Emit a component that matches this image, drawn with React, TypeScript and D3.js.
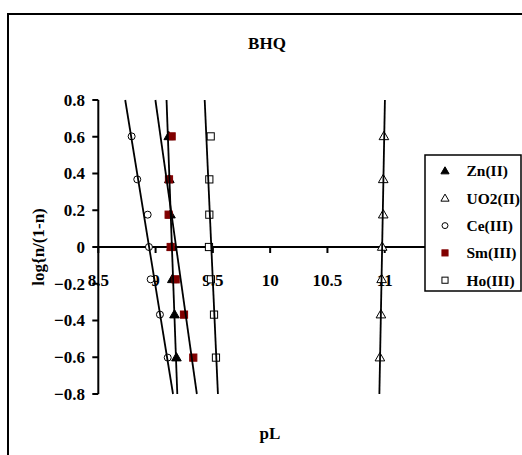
import React from "react";
import * as d3 from "d3";

// log{n/(1-n)} values shared by every series
const logRatio = [0.602, 0.368, 0.176, 0, -0.176, -0.368, -0.602];
// pL values per series
const znPL = [9.115, 9.12, 9.13, 9.14, 9.146, 9.165, 9.182];
const uo2PL = [10.993, 10.987, 10.987, 10.978, 10.973, 10.967, 10.958];
const cePL = [8.791, 8.84, 8.931, 8.942, 8.957, 9.038, 9.106];
const smPL = [9.14, 9.117, 9.114, 9.132, 9.175, 9.248, 9.329];
const hoPL = [9.481, 9.469, 9.469, 9.466, 9.483, 9.51, 9.527];

const seriesNames = ["Zn(II)", "UO2(II)", "Ce(III)", "Sm(III)", "Ho(III)"];
const xTicks = [8.5, 9, 9.5, 10, 10.5, 11];
const yTicks = [0.8, 0.6, 0.4, 0.2, 0, -0.2, -0.4, -0.6, -0.8];

const FONT = '"Liberation Serif", "Times New Roman", Times, serif';

type Marker = "triFill" | "triOpen" | "circle" | "sqRed" | "sqOpen";
const markers: Marker[] = ["triFill", "triOpen", "circle", "sqRed", "sqOpen"];
const seriesPL = [znPL, uo2PL, cePL, smPL, hoPL];

function fit(xs: number[], ys: number[]) {
  const mx = d3.mean(xs)!;
  const my = d3.mean(ys)!;
  let sxy = 0, sxx = 0;
  xs.forEach((x, i) => {
    sxy += (x - mx) * (ys[i] - my);
    sxx += (x - mx) * (x - mx);
  });
  const b = sxy / sxx;
  const a = my - b * mx;
  return { a, b };
}

function MarkerShape({ kind, cx, cy, s = 1 }: { kind: Marker; cx: number; cy: number; s?: number }) {
  const h = 3.6 * s;
  if (kind === "circle") {
    return <circle cx={cx} cy={cy} r={3.5 * s} fill="#fff" stroke="#000" strokeWidth={1} />;
  }
  if (kind === "sqRed" || kind === "sqOpen") {
    return (
      <rect
        x={cx - h}
        y={cy - h}
        width={2 * h}
        height={2 * h}
        fill={kind === "sqRed" ? "#800000" : "#fff"}
        stroke={kind === "sqRed" ? "#800000" : "#000"}
        strokeWidth={1}
      />
    );
  }
  const tri = d3.symbol(d3.symbolTriangle, 40 * s * s)()!;
  return (
    <path
      d={tri}
      transform={`translate(${cx},${cy + 0.5})`}
      fill={kind === "triFill" ? "#000" : "#fff"}
      stroke="#000"
      strokeWidth={1}
    />
  );
}

export default function App() {
  const x = d3.scaleLinear().domain([8.5, 11.5]).range([98.3, 442]);
  const y = d3.scaleLinear().domain([-0.8, 0.8]).range([394, 100]);

  const fits = seriesPL.map((pl) => fit(pl, logRatio));
  const line = d3
    .line<[number, number]>()
    .x((d) => x(d[0]))
    .y((d) => y(d[1]));

  const legendRows = seriesNames.map((n, i) => ({ n, m: markers[i], yy: 171 + i * 27.3 }));
  const txt = { fontFamily: FONT, fontWeight: 700 as const };

  return (
    <svg
      width={522}
      height={455}
      style={{ position: "absolute", left: 0, top: 0, display: "block", background: "#fff", fontFamily: FONT }}
    >
      <rect x={0} y={0} width={522} height={455} fill="#fff" />
      {/* outer chart border */}
      <rect x={8} y={14} width={600} height={500} fill="none" stroke="#000" strokeWidth={2} />

      <text x={267} y={49} textAnchor="middle" fontSize={17} style={txt}>
        BHQ
      </text>

      {/* y axis */}
      <line x1={x(8.5)} x2={x(8.5)} y1={y(0.8)} y2={y(-0.8)} stroke="#000" strokeWidth={2} />
      {yTicks.map((t) => (
        <g key={t}>
          <line x1={x(8.5) - 6} x2={x(8.5)} y1={y(t)} y2={y(t)} stroke="#000" strokeWidth={2} />
          <text x={85} y={y(t)} dy="0.35em" textAnchor="end" fontSize={17} style={txt}>
            {t === 0 ? "0" : d3.format(".1f")(t)}
          </text>
        </g>
      ))}

      {/* x axis */}
      <line x1={x(8.5)} x2={x(11.5)} y1={y(0)} y2={y(0)} stroke="#000" strokeWidth={2} />
      {xTicks.map((t) => (
        <g key={t}>
          <line x1={x(t)} x2={x(t)} y1={y(0)} y2={y(0) + 6} stroke="#000" strokeWidth={2} />
          <text x={x(t)} y={286} textAnchor="middle" fontSize={17} style={txt}>
            {String(t)}
          </text>
        </g>
      ))}

      {/* markers */}
      {seriesPL.map((pl, si) =>
        pl.map((v, i) => (
          <MarkerShape key={`${si}-${i}`} kind={markers[si]} cx={x(v)} cy={y(logRatio[i])} />
        ))
      )}

      {/* trendlines */}
      {fits.map((f, si) => {
        const pts: [number, number][] = [0.8, -0.8].map((yy) => [(yy - f.a) / f.b, yy]);
        return <path key={si} d={line(pts)!} fill="none" stroke="#000" strokeWidth={1.8} />;
      })}

      {/* axis titles */}
      <text x={270} y={439} textAnchor="middle" fontSize={17} style={txt}>
        pL
      </text>
      <text
        transform={`translate(38,${y(0)}) rotate(-90)`}
        textAnchor="middle"
        dy="0.35em"
        fontSize={17}
        style={txt}
      >
        log{"{"}n/(1-n)
      </text>

      {/* legend */}
      <rect x={425} y={155} width={96} height={136} fill="#fff" stroke="#000" strokeWidth={1.5} />
      {legendRows.map((r) => (
        <g key={r.n}>
          <MarkerShape kind={r.m} cx={445} cy={r.yy} s={0.85} />
          <text x={466.5} y={r.yy} dy="0.35em" fontSize={15.5} style={txt}>
            {r.n}
          </text>
        </g>
      ))}
    </svg>
  );
}
